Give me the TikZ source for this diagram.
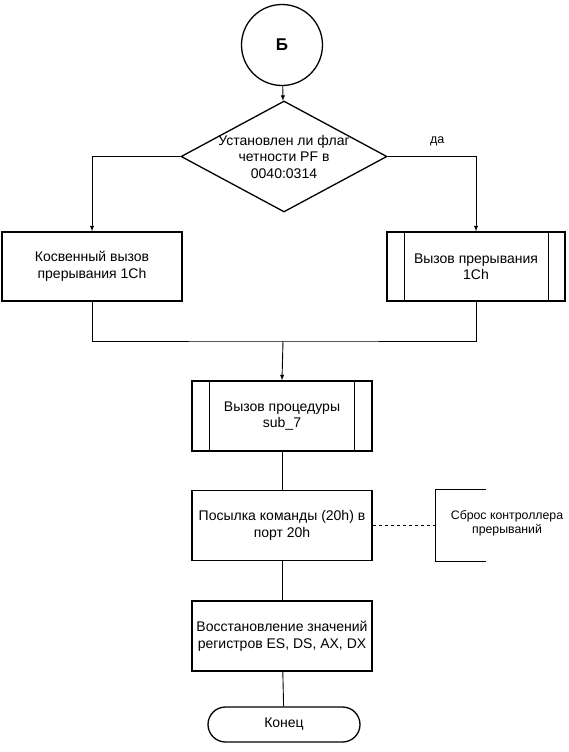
\documentclass[tikz,border=0pt]{standalone}
\usepackage{fontspec}
\setmainfont{Liberation Sans}
\usetikzlibrary{positioning,arrows,shapes}

\begin{document}
\begin{tikzpicture}[x=1pt,y=-1pt,>=latex]
	\tikzset{txt/.style={align=center,inner sep=0pt,font=\fontsize{14}{16.5}\selectfont}}
	\tikzstyle{block}=[txt,draw,line width=1.3pt,minimum width=180pt,minimum height=70pt]
	\tikzstyle{subproc}=[block]
	\tikzstyle{term}=[txt,draw,line width=1.3pt,rounded corners=17.5pt,minimum width=152pt,minimum height=35pt]
	\tikzstyle{link}=[line width=0.9pt]
	\useasboundingbox (0,0) rectangle (569,752);

	%% Start and condition
	\node[circle,draw,line width=1.3pt,minimum size=81pt,font=\bfseries\fontsize{17}{18}\selectfont] (start) at (282,45) {Б};
	\node[diamond,draw,line width=1.3pt,minimum width=206pt,minimum height=111pt,inner sep=0pt] (cond) at (284,156.5) {};
	\node[txt] (condtext) at (cond.center) {Установлен ли флаг\\четности PF в\\0040:0314};

	%% Branches
	\node[block,minimum height=69pt] (indirect) at (92,266.5) {Косвенный вызов\\прерывания 1Ch};
	\node[subproc,minimum width=178pt,minimum height=69pt] (intcall) at (476,266.5) {Вызов прерывания\\1Ch};
	\draw[line width=1.3pt] ([xshift=18pt]intcall.north west) -- ([xshift=18pt]intcall.south west)
		([xshift=-17pt]intcall.north east) -- ([xshift=-17pt]intcall.south east);
	\coordinate (join) at (283,341);

	%% Main column
	\node[subproc] (sub) at (282,416) {Вызов процедуры\\sub\_7};
	\draw[line width=1.3pt] ([xshift=18pt]sub.north west) -- ([xshift=18pt]sub.south west)
		([xshift=-18pt]sub.north east) -- ([xshift=-18pt]sub.south east);
	\node[block] (send) at (282,525.5) {Посылка команды (20h) в\\порт 20h};
	\node[block] (restore) at (282,636) {Восстановление значений\\регистров ES, DS, AX, DX};
	\node[term] (stop) at (284,724.5) {Конец};

	%% Comment bracket
	\node[minimum width=50pt,minimum height=71pt,inner sep=0pt] (note) at (461,525.5) {};
	\draw[line width=1.3pt] (note.north east) -- (note.north west) -- (note.south west) -- (note.south east);
	\node[txt,font=\fontsize{12.3}{14}\selectfont] (notetext) at (507,523) {Сброс контроллера\\прерываний};

	%% Connectors
	\draw[link,->] (start) -- (cond);
	\draw[link,->] (cond.west) -| (indirect.north);
	\draw[link,->] (cond.east) -| node[txt,font=\fontsize{12.5}{14}\selectfont,pos=0.28,above=10pt] {да} (intcall.north);
	\draw[link] (indirect.south) |- (join) -| (intcall.south);
	\draw[link,->] (join) -- (sub.north);
	\draw[link] (sub) -- (send);
	\draw[link] (send) -- (restore);
	\draw[link] (restore) -- (stop);
	\draw[link,dashed] (send.east) -- (note.west);
\end{tikzpicture}
\end{document}
